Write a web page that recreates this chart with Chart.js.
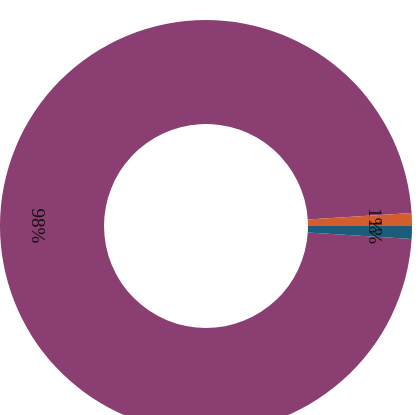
<!DOCTYPE html>
<html>
<head>
<meta charset="utf-8">
<script src="https://cdn.jsdelivr.net/npm/chart.js@4/dist/chart.umd.min.js"></script>
<style>
  html, body { margin: 0; padding: 0; background: #fff; overflow: hidden; }
  #wrap { width: 420px; height: 415px; overflow: hidden; position: relative; }
  canvas { position: absolute; left: 0; top: 0; }
</style>
</head>
<body>
<div id="wrap">
  <canvas id="donut" width="412" height="452"></canvas>
</div>
<script>
var categories = ['Group A', 'Group B', 'Group C'];
var values = [98, 1, 1];
var colors = ['#8a3e71', '#d35d2e', '#1c5b79'];

window.onload = function() {
    var total = values.reduce(function(a, b) { return a + b; }, 0);

    var pctLabels = {
        id: 'pctLabels',
        afterDatasetsDraw: function(chart) {
            var ctx = chart.ctx;
            var meta = chart.getDatasetMeta(0);
            ctx.save();
            ctx.font = '19px "Liberation Serif", serif';
            ctx.fillStyle = '#111';
            ctx.textAlign = 'center';
            ctx.textBaseline = 'middle';
            meta.data.forEach(function(arc, i) {
                var p = arc.getProps(['x', 'y', 'startAngle', 'endAngle', 'innerRadius', 'outerRadius'], true);
                var mid = (p.startAngle + p.endAngle) / 2;
                var r = p.innerRadius + 0.64 * (p.outerRadius - p.innerRadius);
                var txt = Math.round(values[i] / total * 100) + '%';
                ctx.save();
                ctx.translate(p.x + Math.cos(mid) * r, p.y + Math.sin(mid) * r);
                ctx.rotate(Math.PI / 2);
                ctx.fillText(txt, 0, 0);
                ctx.restore();
            });
            ctx.restore();
        }
    };

    var ctx = document.getElementById('donut').getContext('2d');
    new Chart(ctx, {
        type: 'doughnut',
        data: {
            labels: categories,
            datasets: [{
                data: values,
                backgroundColor: colors,
                borderWidth: 0
            }]
        },
        options: {
            responsive: false,
            animation: false,
            cutout: '49.5%',
            rotation: 93.6,
            layout: { padding: 0 },
            plugins: {
                legend: { display: false },
                tooltip: { enabled: false }
            }
        },
        plugins: [pctLabels]
    });
};
</script>
</body>
</html>
